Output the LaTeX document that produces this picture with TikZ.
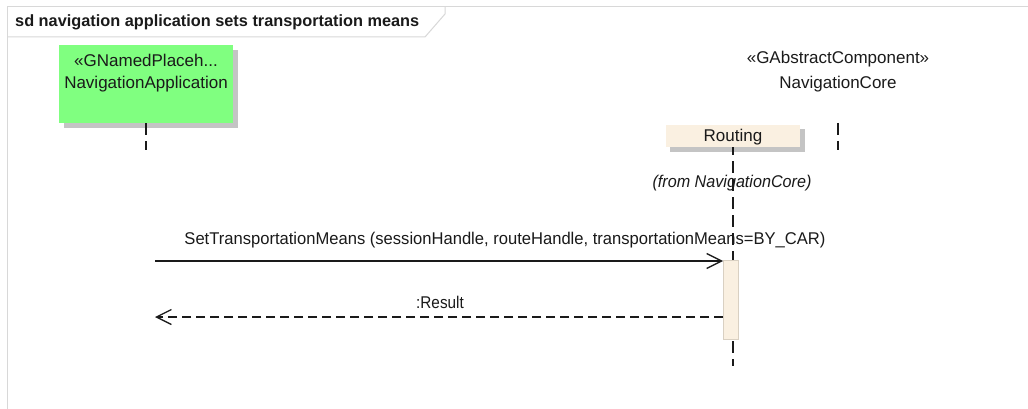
\documentclass[tikz,border=0pt]{standalone}
\usepackage{fontspec}
\setmainfont{Liberation Sans}
\usetikzlibrary{arrows.meta}
\definecolor{framegray}{HTML}{D8D8D8}
\definecolor{shadowgray}{HTML}{C4C4C4}
\definecolor{appgreen}{HTML}{80FF80}
\definecolor{beige}{HTML}{FAF0E1}
\definecolor{barborder}{HTML}{D9D0C2}
\definecolor{ink}{HTML}{1A1A1A}
\tikzset{
  lbl/.style={inner sep=0pt, text=ink, font=\fontsize{17}{20}\selectfont},
  lifeline/.style={draw=ink, line width=1.3pt, dash pattern=on 12pt off 6pt},
  msg/.style={draw=ink, line width=1.3pt, -{Straight Barb[length=15pt,width=15pt,line width=1.3pt]}},
  ret/.style={msg, dash pattern=on 9pt off 5pt},
}
\begin{document}
\begin{tikzpicture}[x=1pt,y=-1pt]
\useasboundingbox (0,0) rectangle (1028,409);
\fill[white] (0,0) rectangle (1028,409);
% frame
\draw[framegray, line width=1pt] (7,409) -- (7,7) -- (1028,7);
\draw[framegray, line width=1pt] (7,37) -- (425,37) -- (445,14) -- (445,7);
\node[lbl, anchor=west, font=\bfseries\fontsize{16.3}{19}\selectfont] (title) at (15,22) {sd navigation application sets transportation means};
% NavigationApplication
\fill[shadowgray] (64,50) rectangle (238,128);
\node[fill=appgreen, minimum width=174pt, minimum height=78pt, inner sep=0pt] (app) at (146,84) {};
\node[lbl] (appst) at (146,60) {«GNamedPlaceh...};
\node[lbl] (appname) at (146,84) {NavigationApplication};
\coordinate (append) at (146,150);
\draw[lifeline] (app.south) -- (append);
% NavigationCore
\node[lbl] (corest) at (838,59) {«GAbstractComponent»};
\node[lbl] (corename) at (838,84) {NavigationCore};
\coordinate (coretop) at (838,123);
\coordinate (corebot) at (838,150);
\draw[lifeline] (coretop) -- (corebot);
% Routing
\fill[shadowgray] (670,129) rectangle (805,152);
\node[fill=beige, minimum width=134pt, minimum height=22pt, inner sep=0pt] (rout) at (733,136) {};
\node[lbl] (routname) at (733,137) {Routing};
\coordinate (routend) at (733,366);
\draw[lifeline, dash phase=-14pt] (rout.south) -- (routend);
\node[lbl, font=\itshape\fontsize{17}{20}\selectfont] (from) at (732,183) {\scalebox{0.95}[1]{(from NavigationCore)}};
% activation
\node[fill=beige, draw=barborder, line width=0.8pt, minimum width=15pt, minimum height=79pt, inner sep=0pt] (act) at (731,299.5) {};
% messages
\coordinate (m1s) at (155,261);
\coordinate (m1e) at (act.west |- m1s);
\draw[msg] (m1s) -- (m1e);
\node[lbl] (m1l) at (505,240) {\scalebox{0.975}[1]{SetTransportationMeans (sessionHandle, routeHandle, transportationMeans=BY\_CAR)}};
\coordinate (m2s) at (act.west |- 0,317);
\coordinate (m2e) at (155,317);
\draw[ret] (m2s) -- (m2e);
\node[lbl] (m2l) at (440,302) {\scalebox{0.9}[1]{:Result}};
\end{tikzpicture}
\end{document}
